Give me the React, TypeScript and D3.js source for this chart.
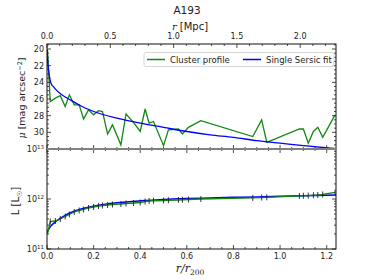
import React, { useEffect, useRef } from "react";
import * as d3 from "d3";

// radii of the measured profile, in units of r200
const rNorm = [0.002, 0.014, 0.036, 0.057, 0.078, 0.096, 0.117, 0.138, 0.157, 0.178, 0.2, 0.221, 0.238, 0.26, 0.281, 0.317, 0.339, 0.371, 0.4, 0.421, 0.438, 0.457, 0.5, 0.521, 0.564, 0.581, 0.607, 0.66, 0.883, 0.921, 0.943, 1.083, 1.1, 1.121, 1.143, 1.162, 1.183, 1.236];
// surface brightness [mag arcsec^-2]
const muProfile = [20.1, 26.3, 25.9, 25.6, 26.9, 25.5, 26.7, 26.7, 28.4, 27.3, 27.9, 27.4, 27.5, 30.2, 29.1, 31.5, 27.8, 28.8, 29.9, 27.2, 28.9, 28.7, 31.6, 29.7, 29.6, 30.2, 29.4, 28.6, 30.5, 28.5, 31.2, 29.6, 29.6, 31.3, 29.9, 29.4, 30.6, 27.9];
// cumulative luminosity [Lsun]
const lumProfile = [2.0e11, 3.55e11, 3.63e11, 3.98e11, 4.47e11, 4.9e11, 5.5e11, 5.89e11, 6.17e11, 6.61e11, 6.92e11, 7.24e11, 7.41e11, 7.59e11, 7.76e11, 7.94e11, 8.13e11, 8.32e11, 8.51e11, 8.91e11, 9.12e11, 9.23e11, 9.33e11, 9.44e11, 9.55e11, 9.66e11, 9.77e11, 1.0e12, 1.05e12, 1.07e12, 1.08e12, 1.15e12, 1.16e12, 1.17e12, 1.19e12, 1.2e12, 1.23e12, 1.35e12];

// single Sersic fit sampled along r/r200
const fitR = [0, 0.004, 0.01, 0.017, 0.03, 0.05, 0.075, 0.1, 0.15, 0.2, 0.3, 0.4, 0.5, 0.6, 0.7, 0.8, 0.9, 1.0, 1.1, 1.24];
const fitMu = [20.0, 21.8, 23.2, 24.1, 24.6, 25.2, 25.7, 26.1, 26.9, 27.5, 28.3, 28.9, 29.4, 29.9, 30.3, 30.6, 31.0, 31.3, 31.6, 31.95];
const fitLum = [2.14e11, 2.3e11, 2.63e11, 2.9e11, 3.3e11, 3.9e11, 4.6e11, 5.3e11, 6.4e11, 7.2e11, 8.4e11, 9.2e11, 9.8e11, 1.02e12, 1.05e12, 1.08e12, 1.1e12, 1.13e12, 1.16e12, 1.2e12];

const r200 = 1.841; // Mpc
const xTicks = [0, 0.2, 0.4, 0.6, 0.8, 1.0, 1.2];
const mpcTicks = [0, 0.5, 1.0, 1.5, 2.0];
const muTicks = [20, 22, 24, 26, 28, 30];
const lumTicks = [1e11, 1e12, 1e13];

const App = () => {
  const ref = useRef(null);

  useEffect(() => {
    const svg = d3.select(ref.current);
    svg.selectAll("*").remove();

    const L = 47, R = 336, T1 = 44, B1 = 149, T2 = 149, B2 = 249;
    const font = "DejaVu Sans, sans-serif";

    const x = d3.scaleLinear().domain([0, 1.24]).range([L, R]);
    const xMpc = d3.scaleLinear().domain([0, 1.24 * r200]).range([L, R]);
    const yMu = d3.scaleLinear().domain([19.4, 32]).range([T1, B1]);
    const yL = d3.scaleLog().domain([1e11, 1e13]).range([B2, T2]);

    const defs = svg.append("defs");
    defs.append("clipPath").attr("id", "c1").append("rect")
      .attr("x", L).attr("y", T1).attr("width", R - L).attr("height", B1 - T1);
    defs.append("clipPath").attr("id", "c2").append("rect")
      .attr("x", L).attr("y", T2).attr("width", R - L).attr("height", B2 - T2);

    // top panel lines
    const line1 = d3.line().x(d => x(d[0])).y(d => yMu(d[1]));
    const g1 = svg.append("g").attr("clip-path", "url(#c1)");
    g1.append("path").datum(rNorm.map((r, i) => [r, muProfile[i]]))
      .attr("d", line1).attr("fill", "none").attr("stroke", "#118811").attr("stroke-width", 1.3);
    g1.append("path").datum(fitR.map((r, i) => [r, fitMu[i]]))
      .attr("d", line1.curve(d3.curveMonotoneX)).attr("fill", "none").attr("stroke", "#0000ff").attr("stroke-width", 1.3);

    // bottom panel lines
    const line2 = d3.line().x(d => x(d[0])).y(d => yL(d[1]));
    const g2 = svg.append("g").attr("clip-path", "url(#c2)");
    g2.append("path").datum(fitR.map((r, i) => [r, fitLum[i]]))
      .attr("d", line2.curve(d3.curveMonotoneX)).attr("fill", "none").attr("stroke", "#0000ff").attr("stroke-width", 1.5);
    g2.append("path").datum(rNorm.map((r, i) => [r, lumProfile[i]]))
      .attr("d", d3.line().x(d => x(d[0])).y(d => yL(d[1]))).attr("fill", "none").attr("stroke", "#118811").attr("stroke-width", 1.3);
    g2.selectAll(".err").data(rNorm.slice(1)).enter().append("line")
      .attr("x1", d => x(d)).attr("x2", d => x(d))
      .attr("y1", (d, i) => yL(lumProfile[i + 1]) - 3)
      .attr("y2", (d, i) => yL(lumProfile[i + 1]) + 3)
      .attr("stroke", "#222").attr("stroke-width", 0.9);

    // ticks helper
    const tick = (x1, y1, x2, y2, col = "#222") =>
      svg.append("line").attr("x1", x1).attr("y1", y1).attr("x2", x2).attr("y2", y2)
        .attr("stroke", col).attr("stroke-width", 0.8);

    // x ticks (r/r200) at bottom of both panels and middle line
    d3.range(0, 1.2401, 0.05).forEach((v, i) => {
      const major = i % 4 === 0;
      const len = major ? 4 : 2;
      tick(x(v), B2, x(v), B2 - len);
      tick(x(v), B1 - len, x(v), B1 + len);
    });
    // top Mpc ticks
    d3.range(0, 1.24 * r200, 0.1).forEach((v, i) => {
      const len = i % 5 === 0 ? 4 : 2;
      tick(xMpc(v), T1, xMpc(v), T1 + len);
    });
    // mu ticks
    d3.range(19.5, 32.01, 0.5).forEach(v => {
      const len = v % 2 === 0 ? 4 : 2;
      tick(L, yMu(v), L + len, yMu(v));
      tick(R, yMu(v), R - len, yMu(v));
    });
    // log ticks
    [11, 12].forEach(e => {
      d3.range(1, 10).forEach(m => {
        const v = m * Math.pow(10, e);
        const len = m === 1 ? 4 : 2;
        tick(L, yL(v), L + len, yL(v));
        tick(R, yL(v), R - len, yL(v));
      });
    });

    // spines
    svg.append("rect").attr("x", L).attr("y", T1).attr("width", R - L).attr("height", B2 - T1)
      .attr("fill", "none").attr("stroke", "#111").attr("stroke-width", 1);
    svg.append("line").attr("x1", L).attr("x2", R).attr("y1", B1).attr("y2", B1)
      .attr("stroke", "#808080").attr("stroke-width", 2);

    // legend
    const lg = svg.append("g");
    lg.append("rect").attr("x", 144).attr("y", 52.5).attr("width", 190).attr("height", 14)
      .attr("rx", 2).attr("fill", "white").attr("fill-opacity", 0.85).attr("stroke", "#cccccc").attr("stroke-width", 0.8);
    lg.append("line").attr("x1", 147).attr("x2", 165).attr("y1", 59.5).attr("y2", 59.5)
      .attr("stroke", "#118811").attr("stroke-width", 1.5);
    lg.append("text").attr("x", 170).attr("y", 62.5).text("Cluster profile")
      .attr("font-family", font).attr("font-size", 8.5).attr("fill", "#222");
    lg.append("line").attr("x1", 243).attr("x2", 261).attr("y1", 59.5).attr("y2", 59.5)
      .attr("stroke", "#0000ff").attr("stroke-width", 1.5);
    lg.append("text").attr("x", 266).attr("y", 62.5).text("Single Sersic fit")
      .attr("font-family", font).attr("font-size", 8.5).attr("fill", "#222");

    // tick labels
    const txt = (px, py, s, anchor = "middle", size = 8) =>
      svg.append("text").attr("x", px).attr("y", py).attr("text-anchor", anchor)
        .attr("font-family", font).attr("font-size", size).attr("fill", "#222").text(s);
    xTicks.forEach(v => txt(x(v), 259, v.toFixed(1)));
    mpcTicks.forEach(v => txt(xMpc(v), 39, v.toFixed(1)));
    muTicks.forEach(v => txt(44, yMu(v) + 3, String(v), "end"));
    lumTicks.forEach(v => {
      const t = svg.append("text").attr("x", 44).attr("y", yL(v) + 3).attr("text-anchor", "end")
        .attr("font-family", font).attr("font-size", 8).attr("fill", "#222");
      t.append("tspan").text("10");
      t.append("tspan").attr("dy", -3.5).attr("font-size", 5.5).text(String(Math.round(Math.log10(v))));
    });

    // title and axis labels
    txt(187, 14, "A193", "middle", 10.5);
    const xt = svg.append("text").attr("x", 190).attr("y", 30).attr("text-anchor", "middle")
      .attr("font-family", font).attr("font-size", 10).attr("fill", "#222");
    xt.append("tspan").attr("font-family", "DejaVu Serif, serif").attr("font-style", "italic").text("r");
    xt.append("tspan").text(" [Mpc]");

    const yt = svg.append("text").attr("transform", "translate(25,98) rotate(-90)").attr("text-anchor", "middle")
      .attr("font-family", font).attr("font-size", 9.5).attr("fill", "#222");
    yt.append("tspan").attr("font-family", "DejaVu Serif, serif").attr("font-style", "italic").text("μ");
    yt.append("tspan").text(" [mag arcsec");
    yt.append("tspan").attr("dy", -3.5).attr("font-size", 6.5).text("−2");
    yt.append("tspan").attr("dy", 3.5).text("]");

    const yb = svg.append("text").attr("transform", "translate(19,201) rotate(-90)").attr("text-anchor", "middle")
      .attr("font-family", font).attr("font-size", 10).attr("fill", "#222");
    yb.append("tspan").text("L [L");
    yb.append("tspan").attr("dy", 2.5).attr("font-size", 7).text("☉");
    yb.append("tspan").attr("dy", -2.5).text("]");

    const xb = svg.append("text").attr("x", 190).attr("y", 272).attr("text-anchor", "middle")
      .attr("font-family", "DejaVu Serif, serif").attr("font-style", "italic").attr("font-size", 11).attr("fill", "#222");
    xb.append("tspan").text("r/r");
    xb.append("tspan").attr("dy", 2.5).attr("font-size", 7.5).attr("font-style", "normal").text("200");
  }, []);

  return (
    <svg ref={ref} width={374} height={280}
      style={{ position: "absolute", left: 0, top: 0, background: "white" }}></svg>
  );
};

export default App;
